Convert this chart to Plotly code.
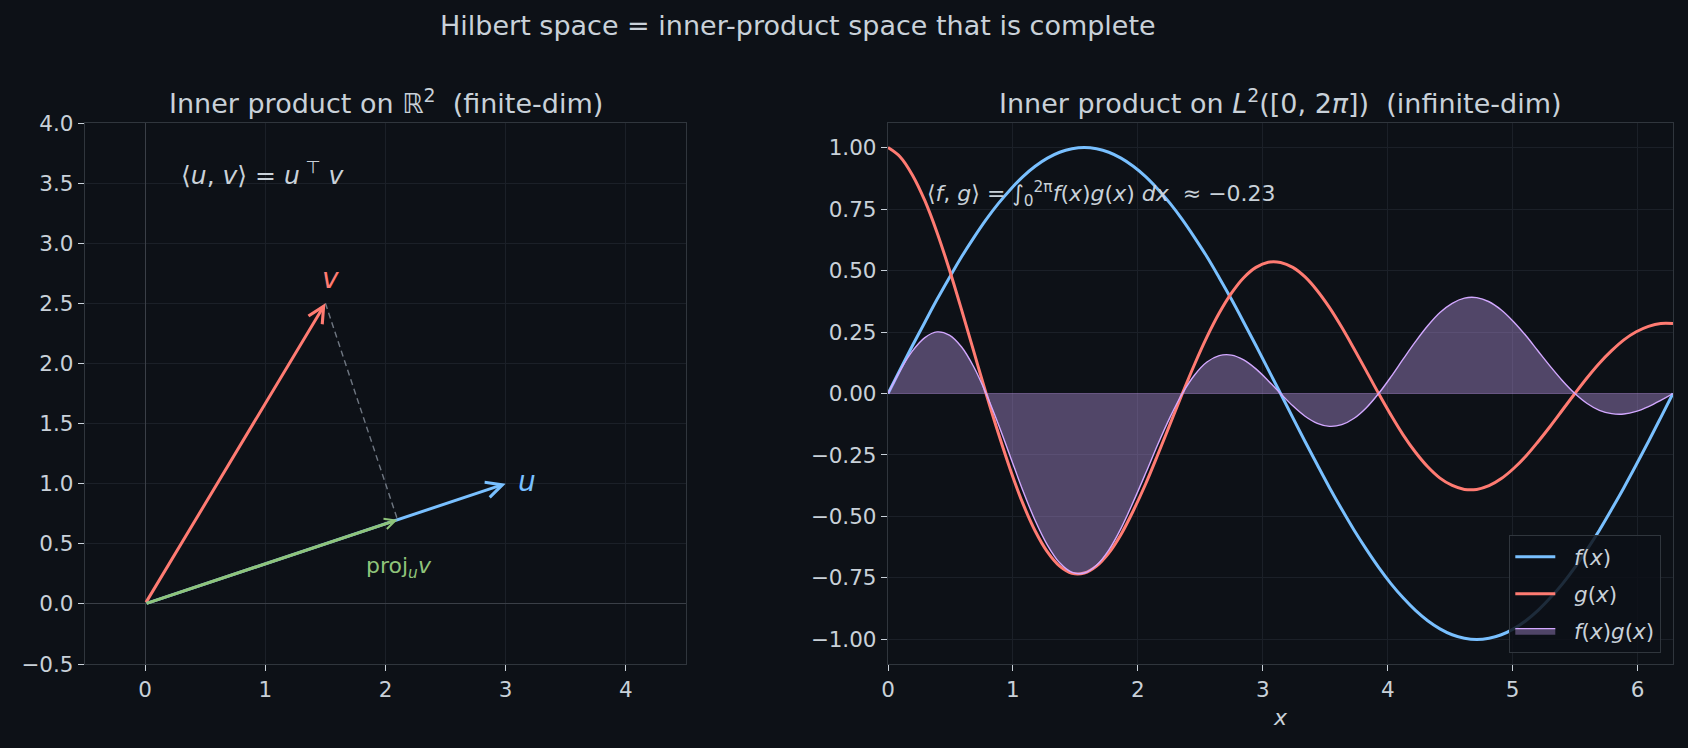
import plotly.graph_objects as go

# ---------------- data ----------------
# finite-dim vectors
u_vec = [3.0, 1.0]
v_vec = [1.5, 2.5]

# L2 functions sampled on [0, 2pi]
x_vals = [0.000, 0.098, 0.196, 0.295, 0.393, 0.491, 0.589, 0.687, 0.785, 0.884, 0.982,
          1.080, 1.178, 1.276, 1.374, 1.473, 1.571, 1.669, 1.767, 1.865, 1.963, 2.062,
          2.160, 2.258, 2.356, 2.454, 2.553, 2.651, 2.749, 2.847, 2.945, 3.043, 3.142,
          3.240, 3.338, 3.436, 3.534, 3.632, 3.731, 3.829, 3.927, 4.025, 4.123, 4.222,
          4.320, 4.418, 4.516, 4.614, 4.712, 4.811, 4.909, 5.007, 5.105, 5.203, 5.301,
          5.400, 5.498, 5.596, 5.694, 5.792, 5.890, 5.989, 6.087, 6.185, 6.283]
f_vals = [0.0, 0.098, 0.195, 0.290, 0.383, 0.471, 0.556, 0.634, 0.707, 0.773, 0.831,
          0.882, 0.924, 0.957, 0.981, 0.995, 1.0, 0.995, 0.981, 0.957, 0.924, 0.882,
          0.831, 0.773, 0.707, 0.634, 0.556, 0.471, 0.383, 0.290, 0.195, 0.098, 0.0,
          -0.098, -0.195, -0.290, -0.383, -0.471, -0.556, -0.634, -0.707, -0.773, -0.831,
          -0.882, -0.924, -0.957, -0.981, -0.995, -1.0, -0.995, -0.981, -0.957, -0.924,
          -0.882, -0.831, -0.773, -0.707, -0.634, -0.556, -0.471, -0.383, -0.290, -0.195,
          -0.098, 0.0]
g_vals = [1.000, 0.962, 0.888, 0.784, 0.654, 0.504, 0.340, 0.170, 0.0, -0.163, -0.314,
          -0.448, -0.559, -0.644, -0.702, -0.731, -0.730, -0.702, -0.649, -0.573, -0.477,
          -0.368, -0.248, -0.124, 0.0, 0.119, 0.230, 0.327, 0.408, 0.471, 0.513, 0.534,
          0.533, 0.513, 0.474, 0.418, 0.349, 0.269, 0.181, 0.091, 0.0, -0.087, -0.168,
          -0.239, -0.298, -0.344, -0.374, -0.390, -0.390, -0.375, -0.346, -0.305, -0.255,
          -0.196, -0.133, -0.066, 0.0, 0.064, 0.123, 0.174, 0.218, 0.251, 0.273, 0.285,
          0.285]
inner_product_value = -0.23

left_xticks = [0, 1, 2, 3, 4]
left_yticks = [-0.5, 0.0, 0.5, 1.0, 1.5, 2.0, 2.5, 3.0, 3.5, 4.0]
right_xticks = [0, 1, 2, 3, 4, 5, 6]
right_yticks = [-1.0, -0.75, -0.5, -0.25, 0.0, 0.25, 0.5, 0.75, 1.0]

# ---------------- styling ----------------
BG = "#0d1117"
TXT = "#c9d1d9"
SPINE = "#30363d"
GRID = "#1b2028"
BLUE = "#79c0ff"
RED = "#ff7b72"
GREEN = "#8fc47a"
PURPLE = "#d2a8ff"
FONT = "DejaVu Sans"
NB = "\u00a0\u00a0"

W, H = 1688, 748
ML, MR, MT, MB = 85, 15, 123, 84
PW, PH = W - ML - MR, H - MT - MB


def px_x(px):
    return (px - ML) / PW


def px_y(py):
    return (H - MB - py) / PH


# derived values
uv = u_vec[0] * v_vec[0] + u_vec[1] * v_vec[1]
uu = u_vec[0] ** 2 + u_vec[1] ** 2
proj = [uv / uu * u_vec[0], uv / uu * u_vec[1]]
prod_vals = [a * b for a, b in zip(f_vals, g_vals)]

fig = go.Figure()

# dashed perpendicular from v to its projection
fig.add_trace(go.Scatter(x=[v_vec[0], proj[0]], y=[v_vec[1], proj[1]], mode="lines",
                         line=dict(color="#6e7681", width=1.4, dash="6px,4px"),
                         showlegend=False, hoverinfo="skip", xaxis="x", yaxis="y"))

# right panel curves
fig.add_trace(go.Scatter(x=x_vals, y=f_vals, mode="lines", name=NB + "<i>f</i>(<i>x</i>)",
                         legendgroup="f",
                         line=dict(color=BLUE, width=3, shape="spline"),
                         xaxis="x2", yaxis="y2"))
fig.add_trace(go.Scatter(x=x_vals, y=g_vals, mode="lines", name=NB + "<i>g</i>(<i>x</i>)",
                         legendgroup="g",
                         line=dict(color=RED, width=3, shape="spline"),
                         xaxis="x2", yaxis="y2"))
fig.add_trace(go.Scatter(x=x_vals, y=prod_vals, mode="lines",
                         name=NB + "<i>f</i>(<i>x</i>)<i>g</i>(<i>x</i>)",
                         legendgroup="fg",
                         fill="tozeroy", fillcolor="rgba(210,168,255,0.35)",
                         line=dict(color=PURPLE, width=1.4, shape="spline"),
                         xaxis="x2", yaxis="y2"))

# arrows
arrows = [
    (v_vec, RED, 3, 1.05),
    (u_vec, BLUE, 3, 1.05),
    (proj, GREEN, 3, 0.7),
]
annotations = []
for vec, col, w, size in arrows:
    annotations.append(dict(x=vec[0], y=vec[1], ax=0, ay=0, xref="x", yref="y",
                            axref="x", ayref="y", text="", showarrow=True,
                            arrowhead=5, arrowsize=size, arrowwidth=w, arrowcolor=col,
                            standoff=0, startstandoff=0))

# labels
annotations += [
    dict(x=v_vec[0] + 0.04, y=v_vec[1] + 0.21, xref="x", yref="y", text="<i>v</i>",
         xanchor="center", yanchor="middle",
         showarrow=False, font=dict(family=FONT, size=28, color=RED)),
    dict(x=u_vec[0] + 0.18, y=u_vec[1] + 0.02, xref="x", yref="y", text="<i>u</i>",
         xanchor="center", yanchor="middle",
         showarrow=False, font=dict(family=FONT, size=28, color=BLUE)),
    dict(x=proj[0] + 0.01, y=proj[1] - 0.4, xref="x", yref="y",
         text="proj<sub><i>u</i></sub><i>v</i>", xanchor="center", yanchor="middle",
         showarrow=False, font=dict(family=FONT, size=22, color=GREEN)),
    dict(x=0.28, y=3.58, xref="x", yref="y", xanchor="left", yanchor="middle",
         text="⟨<i>u</i>, <i>v</i>⟩ = <i>u</i><sup> ⊤</sup><i> v</i>",
         showarrow=False, font=dict(family=FONT, size=25, color=TXT)),
    dict(x=0.3, y=0.81, xref="x2", yref="y2", xanchor="left", yanchor="middle",
         text="⟨<i>f</i>, <i>g</i>⟩ = ∫<sub>0</sub><sup>2π</sup><i>f</i>(<i>x</i>)<i>g</i>(<i>x</i>) <i>dx</i>  ≈ "
              + ("−%.2f" % abs(inner_product_value) if inner_product_value < 0
                 else "%.2f" % inner_product_value),
         showarrow=False, font=dict(family=FONT, size=22, color=TXT)),
    # titles
    dict(x=px_x(798), y=px_y(26), xref="paper", yref="paper", xanchor="center", yanchor="middle",
         text="Hilbert space = inner-product space that is complete",
         showarrow=False, font=dict(family=FONT, size=27, color=TXT)),
    dict(x=px_x((85 + 686) / 2), y=px_y(102), xref="paper", yref="paper",
         xanchor="center", yanchor="middle",
         text="Inner product on ℝ<sup>2</sup>  (finite-dim)",
         showarrow=False, font=dict(family=FONT, size=27, color=TXT)),
    dict(x=px_x((888 + 1673) / 2), y=px_y(102), xref="paper", yref="paper",
         xanchor="center", yanchor="middle",
         text="Inner product on <i>L</i><sup>2</sup>([0, 2<i>π</i>])  (infinite-dim)",
         showarrow=False, font=dict(family=FONT, size=27, color=TXT)),
]

axis_common = dict(showline=True, mirror=True, linecolor=SPINE, linewidth=1.3,
                   showgrid=True, gridcolor=GRID, gridwidth=1, automargin=False,
                   ticks="outside", ticklen=6, tickwidth=1.2, tickcolor=TXT,
                   tickfont=dict(family=FONT, size=21.5, color=TXT))

fig.update_layout(
    width=W, height=H,
    margin=dict(l=ML, r=MR, t=MT, b=MB, autoexpand=False),
    paper_bgcolor=BG, plot_bgcolor=BG,
    font=dict(family=FONT, color=TXT),
    xaxis=dict(domain=[0, px_x(686)], range=[-0.5, 4.5], tickvals=left_xticks,
               zeroline=True, zerolinecolor="#3a3f47", zerolinewidth=1.3,
               anchor="y", **axis_common),
    yaxis=dict(domain=[0, 1], range=[-0.5, 4.0], tickvals=left_yticks,
               tickformat=".1f", zeroline=True, zerolinecolor="#3a3f47", zerolinewidth=1.3,
               anchor="x", **axis_common),
    xaxis2=dict(domain=[px_x(888), 1], range=[0, 6.2832], tickvals=right_xticks,
                zeroline=False, anchor="y2",
                title=dict(text="<i>x</i>", font=dict(family=FONT, size=22, color=TXT), standoff=8),
                **axis_common),
    yaxis2=dict(domain=[0, 1], range=[-1.1, 1.1], tickvals=right_yticks,
                tickformat=".2f", zeroline=True, zerolinecolor="rgba(210,168,255,0.35)",
                zerolinewidth=1, anchor="x2", **axis_common),
    legend=dict(x=px_x(1661), y=px_y(653), xanchor="right", yanchor="bottom",
                bgcolor="rgba(13,17,23,0.85)", bordercolor=SPINE, borderwidth=1.3,
                font=dict(family=FONT, size=21.5, color=TXT),
                itemwidth=40, traceorder="grouped", tracegroupgap=6),
    annotations=annotations,
    showlegend=True,
)

fig.write_html("out.html")
